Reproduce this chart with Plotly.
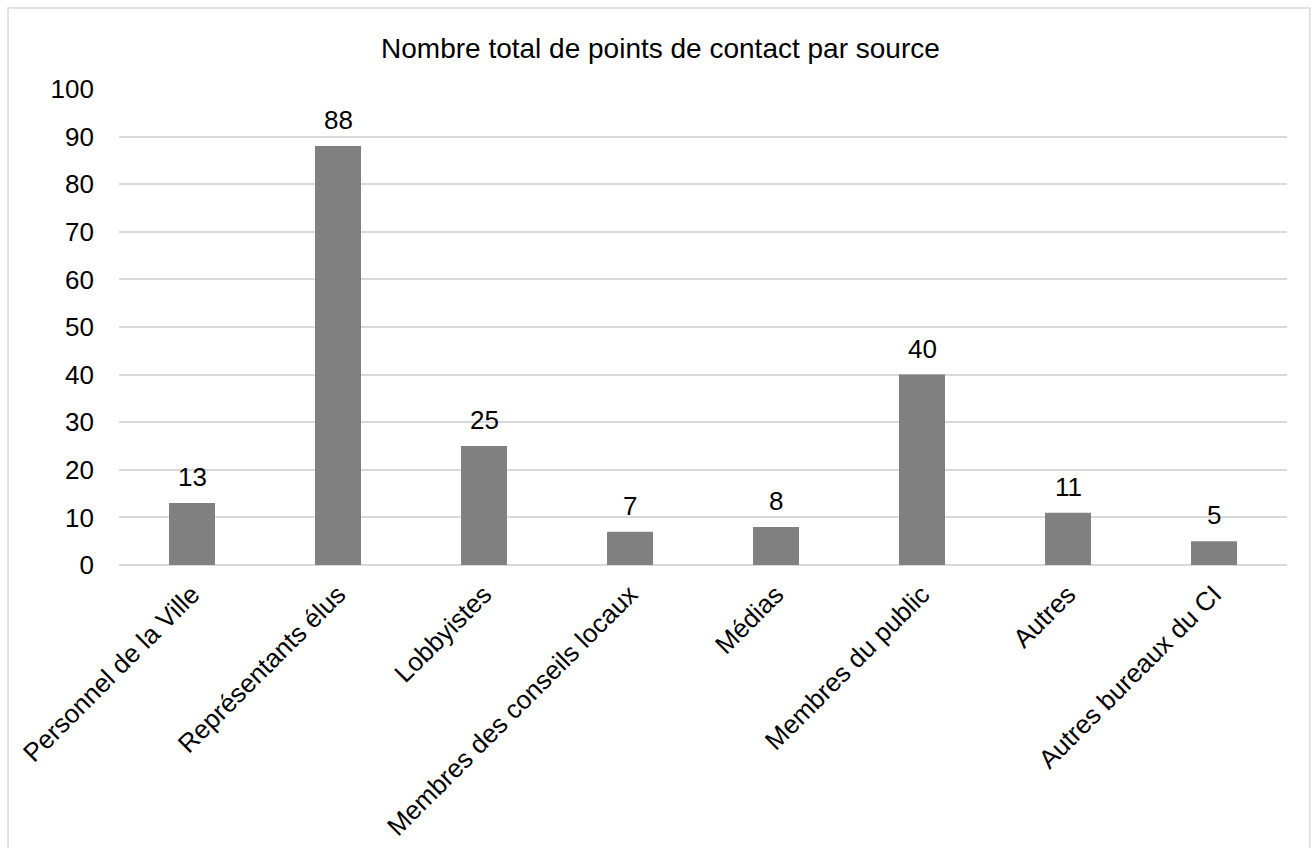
import plotly.graph_objects as go

categories = [
    "Personnel de la Ville",
    "Représentants élus",
    "Lobbyistes",
    "Membres des conseils locaux",
    "Médias",
    "Membres du public",
    "Autres",
    "Autres bureaux du CI",
]
counts = [13, 88, 25, 7, 8, 40, 11, 5]
y_ticks = list(range(0, 101, 10))

FONT = "Arial, Liberation Sans, sans-serif"
GRID = "#d9d9d9"

fig = go.Figure(
    go.Bar(
        x=categories,
        y=counts,
        marker=dict(color="#808080", line=dict(width=0)),
        hoverinfo="x+y",
    )
)

# value labels above each bar
for cat, val in zip(categories, counts):
    fig.add_annotation(
        x=cat, y=val, text=str(val), showarrow=False,
        yanchor="bottom", yshift=9,
        font=dict(family=FONT, size=26, color="#000000"),
    )

# light frame around the whole chart
fig.add_shape(
    type="rect", xref="paper", yref="paper",
    x0=-0.095, x1=1.0195, y0=-0.62, y1=1.170,
    line=dict(color=GRID, width=1.5), fillcolor="rgba(0,0,0,0)", layer="below",
)

fig.update_layout(
    width=1313, height=848,
    margin=dict(l=119, r=26, t=89, b=283, autoexpand=False),
    paper_bgcolor="white", plot_bgcolor="white",
    bargap=0.685,
    showlegend=False,
    title=dict(
        text="Nombre total de points de contact par source",
        x=0.503, xanchor="center", y=1 - 48 / 848, yanchor="middle",
        yref="container",
        font=dict(family=FONT, size=28, color="#000000"),
    ),
    font=dict(family=FONT, color="#000000"),
)

fig.update_yaxes(
    range=[0, 100], tickvals=y_ticks, automargin=False,
    showgrid=True, gridcolor=GRID, gridwidth=1.5,
    zeroline=True, zerolinecolor=GRID, zerolinewidth=1.5,
    showline=False, ticks="",
    ticklabelstandoff=24,
    tickfont=dict(family=FONT, size=26, color="#000000"),
)
fig.update_xaxes(
    tickangle=-45, showgrid=False, showline=False, ticks="",
    automargin=False,
    ticklabelstandoff=8,
    tickfont=dict(family=FONT, size=26, color="#000000"),
)

fig.write_html("out.html")
